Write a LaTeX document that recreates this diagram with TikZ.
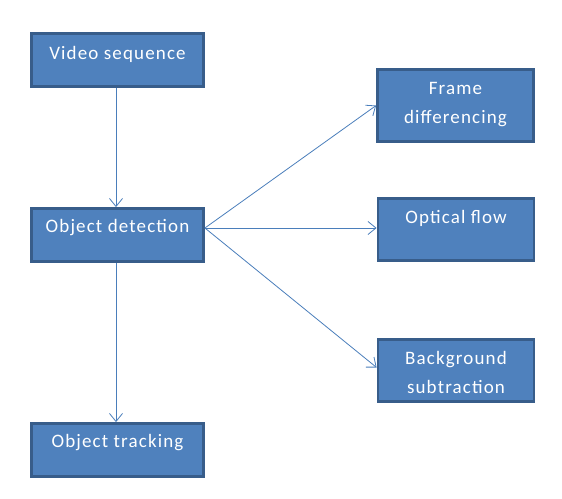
\documentclass[tikz,border=0pt]{standalone}
\usepackage{fontspec}
\setmainfont{Carlito}[LetterSpace=6]
\usetikzlibrary{arrows.meta}
\definecolor{boxfill}{HTML}{4F81BD}
\definecolor{boxline}{HTML}{385D8A}
\definecolor{arrowline}{HTML}{4A7EBB}
\begin{document}
\begin{tikzpicture}[x=1pt,y=-1pt,
  box/.style={draw=boxline,line width=2.8pt,fill=boxfill,rectangle,inner sep=0pt},
  txt/.style={text=white,font=\fontsize{19}{29}\selectfont,align=center,inner sep=0pt},
  conn/.style={draw=arrowline,line width=0.8pt,-{Straight Barb[length=8pt,width=13pt,line width=0.8pt]}}]
\useasboundingbox (0,0) rectangle (562,498);
\node[box,minimum width=172pt,minimum height=53pt] (vs) at (117.5,60) {};
\node[box,minimum width=172pt,minimum height=53pt] (od) at (117.5,235) {};
\node[box,minimum width=172pt,minimum height=53pt] (ot) at (117.5,450) {};
\node[box,minimum width=156pt,minimum height=72pt] (fd) at (455.5,105.5) {};
\node[box,minimum width=156pt,minimum height=62pt] (of) at (456,229.5) {};
\node[box,minimum width=156pt,minimum height=62pt] (bs) at (456,370.5) {};
\node[txt] (vst) at (117.5,54) {Video sequence};
\node[txt] (odt) at (117.5,228) {Object detection};
\node[txt] (ott) at (117.5,443) {Object tracking};
\node[txt] (fdt) at (455.5,104.5) {Frame\\differencing};
\node[txt] (oft) at (456,218) {Optical flow};
\node[txt] (bst) at (456,372.5) {Background\\subtraction};
\coordinate (odE) at ([yshift=7pt]od.east);
\draw[conn] ([xshift=-1.5pt]vs.south) -- ([xshift=-1.5pt]od.north);
\draw[conn] ([xshift=-1.5pt]od.south) -- ([xshift=-1.5pt]ot.north);
\draw[conn] (odE) -- (fd.west);
\draw[conn] (odE) -- (odE -| of.west);
\draw[conn] (odE) -- ([yshift=3pt]bs.west);
\end{tikzpicture}
\end{document}
